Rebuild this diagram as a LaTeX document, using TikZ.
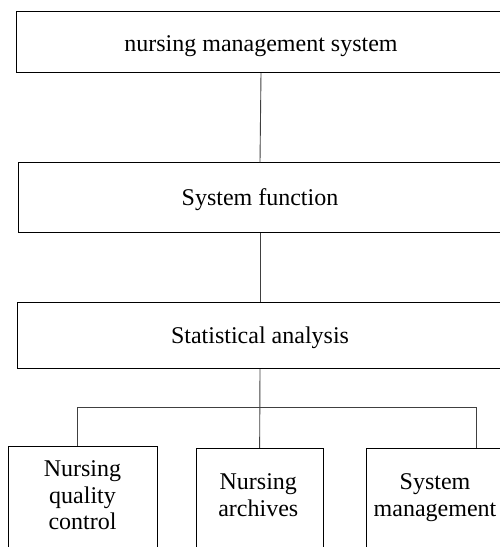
\documentclass[tikz,border=0pt]{standalone}
\usepackage{fontspec}
\setmainfont{Liberation Serif}
\begin{document}
\begin{tikzpicture}[x=1pt,y=-1pt,
  box/.style={draw=black, line width=0.9pt, inner sep=0pt},
  lbl/.style={font=\fontsize{24}{26.7}\selectfont, inner sep=0pt, align=center},
  link/.style={draw=black!75, line width=0.9pt}]
\useasboundingbox (0,0) rectangle (499,547);
% boxes
\node[box, minimum width=490pt, minimum height=61.4pt] (b1) at (261,42) {};
\node[box, minimum width=484pt, minimum height=70pt] (b2) at (260,197.7) {};
\node[box, minimum width=485.4pt, minimum height=66pt] (b3) at (260,335.7) {};
\node[box, minimum width=149pt, minimum height=110pt] (c1) at (82.8,501) {};
\node[box, minimum width=127.3pt, minimum height=110pt] (c2) at (259.65,503.3) {};
\node[box, minimum width=138pt, minimum height=110pt] (c3) at (435,503.3) {};
% texts
\node[lbl, anchor=base] (t1) at (261,51.7) {nursing management system};
\node[lbl, anchor=base] (t2) at (260,205) {System function};
\node[lbl, anchor=base] (t3) at (260,343.3) {Statistical analysis};
\node[lbl] (t4) at (82.5,495.4) {Nursing\\quality\\control};
\node[lbl] (t5) at (258.3,495.2) {Nursing\\archives};
\node[lbl] (t6) at (435,497.8) {System\\management};
% connectors
\coordinate (hl) at (77.3,407.7);
\coordinate (hr) at (476.7,407.7);
\draw[link] (b1.south) -- (b2.north);
\draw[link] (b2.south) -- (b3.north);
\draw[link] (b3.south) -- (c2.north);
\draw[link] (hl) -- (hr);
\draw[link] (hl) -- (hl |- c1.north);
\draw[link] (hr) -- (hr |- c3.north);
\end{tikzpicture}
\end{document}
